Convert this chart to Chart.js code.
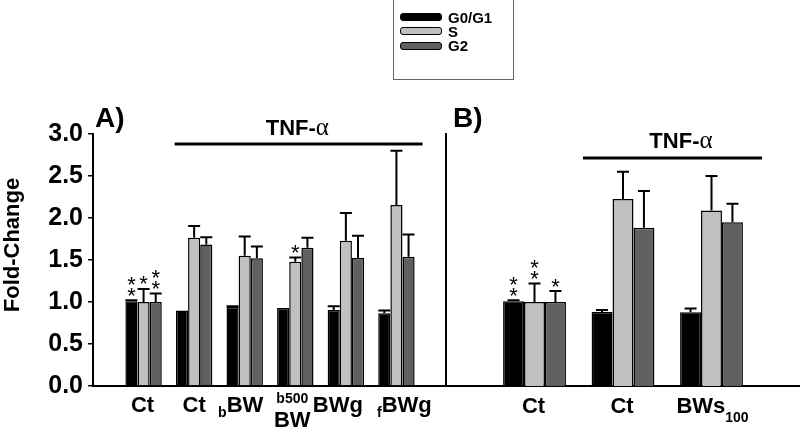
<!DOCTYPE html>
<html>
<head>
<meta charset="utf-8">
<script src="https://cdn.jsdelivr.net/npm/chart.js@4.4.0/dist/chart.umd.min.js"></script>
<style>
    body { margin: 0; background: #fff; }
    #wrap { position: relative; width: 800px; height: 430px; overflow: hidden; font-family: 'Liberation Sans', Arial, sans-serif; }
    #graficoA { position: absolute; left: 0; top: 0; }
    #graficoB { position: absolute; left: 436px; top: 0; }
    #legenda { position: absolute; left: 393px; top: -2px; width: 121px; height: 82px; border: 1px solid #666; box-sizing: border-box; }
    .item { position: absolute; left: 6px; height: 14px; display: flex; align-items: center; font-weight: bold; font-size: 15px; color: #000; }
    .cor { width: 42px; height: 8px; border: 1px solid #000; border-radius: 3px; box-sizing: border-box; margin-right: 6px; }
</style>
</head>
<body>
<div id="wrap">
    <canvas id="graficoA" width="450" height="430"></canvas>
    <canvas id="graficoB" width="364" height="430"></canvas>
    <div id="legenda"></div>
</div>
<script>
const series = ['G0/G1', 'S', 'G2'];
const cores = ['#000000', '#c0c0c0', '#606060'];
const yTicks = [0, 0.5, 1, 1.5, 2, 2.5, 3];

// painel A
const categoriasA = ['Ct', 'Ct', 'bBW', 'b500BW', 'BWg', 'fBWg'];
const g0A = [1.01, 0.90, 0.94, 0.93, 0.905, 0.865];
const sA = [1.00, 1.765, 1.55, 1.48, 1.73, 2.155];
const g2A = [1.00, 1.685, 1.52, 1.645, 1.525, 1.54];
const erroG0A = [0.01, 0, 0.01, 0, 0.045, 0.035];
const erroSA = [0.155, 0.14, 0.23, 0.05, 0.33, 0.645];
const erroG2A = [0.10, 0.085, 0.14, 0.12, 0.265, 0.265];
const estrelasG0A = [2, 0, 0, 0, 0, 0];
const estrelasSA = [1, 0, 0, 1, 0, 0];
const estrelasG2A = [2, 0, 0, 0, 0, 0];

// painel B
const categoriasB = ['Ct', 'Ct', 'BWs100'];
const g0B = [1.01, 0.88, 0.877];
const sB = [1.00, 2.225, 2.09];
const g2B = [1.00, 1.885, 1.95];
const erroG0B = [0.01, 0.025, 0.045];
const erroSB = [0.22, 0.325, 0.41];
const erroG2B = [0.13, 0.435, 0.22];
const estrelasG0B = [2, 0, 0];
const estrelasSB = [2, 0, 0];
const estrelasG2B = [1, 0, 0];

const FONTE = "'Liberation Sans', Arial, sans-serif";

// como desenhar cada rótulo do eixo x: linhas -> [texto, tamanho, deslocamento vertical]
const rotulos = {
    'Ct': [[['Ct', 22, 0]]],
    'bBW': [[['b', 14, 5], ['BW', 22, 0]]],
    'b500BW': [[['b500', 14, -9]], [['BW', 22, 15]]],
    'BWg': [[['BWg', 22, 0]]],
    'fBWg': [[['f', 14, 5], ['BWg', 22, 0]]],
    'BWs100': [[['BWs', 22, 0], ['100', 14, 9]]]
};

function pad(arr) {
    return [null, ...arr, null];
}

function desenharRotulo(ctx, nome, cx, base) {
    rotulos[nome].forEach(linha => {
        let largura = 0;
        linha.forEach(([t, tam]) => {
            ctx.font = 'bold ' + tam + 'px ' + FONTE;
            largura += ctx.measureText(t).width;
        });
        let x = cx - largura / 2;
        linha.forEach(([t, tam, dy]) => {
            ctx.font = 'bold ' + tam + 'px ' + FONTE;
            ctx.textAlign = 'left';
            ctx.fillText(t, x, base + dy);
            x += ctx.measureText(t).width;
        });
    });
}

function criarExtras(cfg) {
    return {
        id: 'extras' + cfg.painel,
        afterDatasetsDraw(chart) {
            const ctx = chart.ctx;
            const area = chart.chartArea;
            const x = chart.scales.x;
            const y = chart.scales.y;
            ctx.save();
            ctx.fillStyle = '#000';
            ctx.strokeStyle = '#000';
            ctx.textBaseline = 'alphabetic';

            // barras de erro e asteriscos
            chart.data.datasets.forEach((ds, di) => {
                const meta = chart.getDatasetMeta(di);
                meta.data.forEach((barra, i) => {
                    const v = ds.data[i];
                    if (v == null) return;
                    const e = ds.erros[i] || 0;
                    const topo = y.getPixelForValue(v + e);
                    if (e > 0) {
                        ctx.lineWidth = 2;
                        ctx.beginPath();
                        ctx.moveTo(barra.x, barra.y);
                        ctx.lineTo(barra.x, topo);
                        ctx.moveTo(barra.x - 6, topo);
                        ctx.lineTo(barra.x + 6, topo);
                        ctx.stroke();
                    }
                    const n = ds.estrelas[i] || 0;
                    ctx.font = '22px ' + FONTE;
                    ctx.textAlign = 'center';
                    const m = ctx.measureText('*');
                    const ajuste = (m.actualBoundingBoxAscent - m.actualBoundingBoxDescent) / 2;
                    for (let k = 0; k < n; k++) {
                        const cy = topo - 8.5 - k * 11;
                        ctx.fillText('*', barra.x, cy + ajuste);
                    }
                });
            });

            // rótulos do eixo x
            cfg.categorias.forEach((nome, i) => {
                desenharRotulo(ctx, nome, x.getPixelForValue(i + 1) + cfg.dx[i], area.bottom + cfg.baseRotulo);
            });

            // letra do painel
            ctx.font = 'bold 28px ' + FONTE;
            ctx.textAlign = 'left';
            ctx.fillText(cfg.painel + ')', area.left + cfg.letraX, area.top - 7);

            // TNF-alfa e linha
            ctx.font = 'bold 22px ' + FONTE;
            const w1 = ctx.measureText('TNF-').width;
            ctx.font = '25px "Liberation Serif", "Times New Roman", serif';
            const w2 = ctx.measureText('\u03b1').width;
            const tx = x.getPixelForValue(cfg.tnfTexto) - (w1 + w2) / 2;
            ctx.font = 'bold 22px ' + FONTE;
            ctx.fillText('TNF-', tx, area.top + cfg.tnfBase);
            ctx.font = '25px "Liberation Serif", "Times New Roman", serif';
            ctx.fillText('\u03b1', tx + w1, area.top + cfg.tnfBase);
            ctx.lineWidth = 3;
            ctx.beginPath();
            ctx.moveTo(x.getPixelForValue(cfg.tnfLinha[0]), area.top + cfg.tnfLinhaY);
            ctx.lineTo(x.getPixelForValue(cfg.tnfLinha[1]), area.top + cfg.tnfLinhaY);
            ctx.stroke();

            // título do eixo y
            if (cfg.tituloY) {
                ctx.translate(13, (area.top + area.bottom) / 2 - 15);
                ctx.rotate(-Math.PI / 2);
                ctx.font = 'bold 22px ' + FONTE;
                ctx.textAlign = 'center';
                ctx.textBaseline = 'middle';
                ctx.fillText(cfg.tituloY, 0, 0);
            }
            ctx.restore();
        }
    };
}

function criarGrafico(id, cfg) {
    const ctx = document.getElementById(id).getContext('2d');
    const eixoY = cfg.tituloY ? {
        min: 0,
        max: 3,
        afterFit: s => { s.width = 93; },
        afterBuildTicks: s => { s.ticks = yTicks.map(v => ({ value: v })); },
        ticks: {
            color: '#000',
            padding: 5,
            font: { family: FONTE, size: 25, weight: 'bold' },
            callback: v => v.toFixed(1)
        },
        grid: { display: true, drawOnChartArea: false, drawTicks: true, tickLength: 5, color: '#000', lineWidth: 1.5 },
        border: { display: true, color: '#000', width: 2 }
    } : {
        min: 0,
        max: 3,
        afterFit: s => { s.width = 10; },
        ticks: { display: false },
        grid: { display: false },
        border: { display: true, color: '#000', width: 2 }
    };

    return new Chart(ctx, {
        type: 'bar',
        data: {
            labels: pad(cfg.categorias).map(c => c || ''),
            datasets: series.map((nome, k) => ({
                label: nome,
                data: pad(cfg.valores[k]),
                erros: pad(cfg.erros[k]),
                estrelas: pad(cfg.estrelas[k]),
                backgroundColor: cores[k],
                borderColor: '#000',
                borderWidth: 1.5,
                categoryPercentage: cfg.largura,
                barPercentage: 1
            }))
        },
        options: {
            responsive: false,
            animation: false,
            layout: { padding: { top: 134, right: cfg.direita, left: 0, bottom: 0 } },
            plugins: {
                legend: { display: false },
                tooltip: { enabled: false }
            },
            scales: {
                x: {
                    offset: false,
                    grid: { display: false },
                    ticks: { display: false },
                    border: { display: true, color: '#000', width: 2 },
                    afterFit: s => { s.height = 44; }
                },
                y: eixoY
            }
        },
        plugins: [criarExtras(cfg)]
    });
}

function criarLegenda() {
    const caixa = document.getElementById('legenda');
    series.forEach((nome, k) => {
        const item = document.createElement('div');
        item.className = 'item';
        item.style.top = (11 + k * 14.3) + 'px';
        const cor = document.createElement('div');
        cor.className = 'cor';
        cor.style.background = cores[k];
        const texto = document.createElement('span');
        texto.textContent = nome;
        item.appendChild(cor);
        item.appendChild(texto);
        caixa.appendChild(item);
    });
}

function carregar() {
    criarGrafico('graficoA', {
        painel: 'A',
        categorias: categoriasA,
        valores: [g0A, sA, g2A],
        erros: [erroG0A, erroSA, erroG2A],
        estrelas: [estrelasG0A, estrelasSA, estrelasG2A],
        largura: 0.72,
        direita: 3,
        dx: [-1, 0, -4, -3, -8, 8],
        baseRotulo: 26,
        letraX: 2,
        tnfTexto: 4.04,
        tnfBase: 1,
        tnfLinha: [1.615, 6.516],
        tnfLinhaY: 10,
        tituloY: 'Fold-Change'
    });
    criarGrafico('graficoB', {
        painel: 'B',
        categorias: categoriasB,
        valores: [g0B, sB, g2B],
        erros: [erroG0B, erroSB, erroG2B],
        estrelas: [estrelasG0B, estrelasSB, estrelasG2B],
        largura: 0.71,
        direita: 0,
        dx: [-1, -1, 1],
        baseRotulo: 27,
        letraX: 7,
        tnfTexto: 2.655,
        tnfBase: 14,
        tnfLinha: [1.548, 3.57],
        tnfLinhaY: 24,
        tituloY: null
    });
    criarLegenda();
}

window.addEventListener('DOMContentLoaded', carregar);
</script>
</body>
</html>
